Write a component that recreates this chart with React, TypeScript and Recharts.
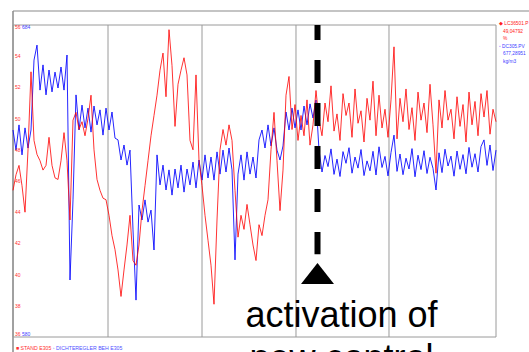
import React from "react";
import {
  LineChart,
  Line,
  XAxis,
  YAxis,
  CartesianGrid,
  ReferenceLine,
  ReferenceDot,
} from "recharts";

// LC36501.PV level (%), left scale 36..56
const levelValues: number[] = [
  45.4, 46.4, 47.0, 45.7, 44.0, 48.0, 53.0, 48.6, 47.7, 47.3,
  46.7, 47.0, 48.8, 47.0, 46.2, 46.1, 47.3, 49.1, 47.3, 43.5,
  49.9, 50.4, 49.3, 49.8, 48.9, 50.0, 51.5, 48.0, 46.1, 45.4,
  44.9, 44.8, 43.8, 42.5, 41.6, 40.3, 38.6, 40.3, 41.9, 43.8,
  40.9, 40.6, 41.9, 44.1, 45.7, 47.3, 48.9, 50.2, 51.5, 53.1,
  54.2, 51.4, 55.7, 53.4, 49.5, 52.2, 53.1, 53.9, 52.8, 48.6,
  48.0, 52.8, 47.3, 45.7, 43.8, 42.2, 40.6, 38.1, 43.5, 48.0,
  49.3, 48.3, 49.6, 48.6, 45.4, 42.4, 43.8, 42.9, 44.5, 43.2,
  41.9, 40.9, 43.2, 42.5, 43.8, 44.8, 48.0, 50.4, 47.3, 44.1,
  46.7, 51.5, 52.7, 49.3, 50.9, 48.6, 50.2, 48.9, 51.2, 48.3,
  49.6, 51.8, 49.9,
  48.9, 51.0, 49.8, 52.1, 49.2, 50.3, 48.6, 51.6, 50.2, 51.0,
  48.8, 51.9, 49.7, 50.5, 48.5, 51.3, 49.9, 52.4, 48.9, 51.5,
  49.4, 50.6, 48.8, 51.2, 54.6, 48.7, 51.3, 49.8, 51.9, 49.3,
  50.7, 48.6, 51.7, 49.9, 51.0, 49.1, 52.2, 49.6, 46.5, 51.2,
  49.4, 51.8, 49.9, 50.6, 48.7, 51.4, 49.5, 50.9, 48.5, 51.7,
  49.6, 51.1, 48.9, 51.6, 50.1, 51.8, 49.0, 50.6, 49.8,
];

// DC305.PV density (kg/m3), right scale 580..684
const densityValues: number[] = [
  649.0, 642.3, 650.7, 640.7, 649.7, 643.0, 649.0, 672.3, 677.3, 662.3,
  670.7, 660.7, 669.0, 661.7, 668.3, 663.0, 670.0, 662.3, 674.0, 599.0,
  625.7, 660.7, 649.0, 657.3, 649.7, 656.3, 648.3, 657.0, 650.7, 655.7,
  647.3, 656.3, 649.0, 655.0, 646.3, 645.7, 639.0, 644.0, 637.3, 642.3,
  615.7, 592.3, 624.0, 619.0, 625.7, 618.3, 622.3, 609.0, 640.7, 630.7,
  637.3, 629.0, 635.7, 627.3, 636.0, 629.7, 637.3, 628.3, 636.0, 630.7,
  638.3, 629.7, 639.0, 632.3, 640.7, 633.0, 640.0, 632.3, 641.7, 634.3,
  642.3, 635.0, 643.0, 635.7, 605.7, 634.3, 640.7, 632.3, 641.7, 634.3,
  640.0, 633.0, 645.7, 649.0, 643.0, 650.7, 643.7, 649.7, 642.3, 639.0,
  643.7, 655.0, 649.0, 656.3, 649.7, 655.7, 649.0, 657.0, 650.7, 657.7,
  653.0, 659.0, 642.3,
  635.0, 640.5, 636.8, 642.7, 634.2, 639.3, 633.5, 641.8, 637.9, 643.1,
  634.6, 640.0, 636.3, 642.5, 633.8, 638.7, 635.4, 641.9, 634.0, 643.4,
  636.5, 640.2, 633.7, 641.5, 647.3, 635.2, 641.0, 634.1, 639.6, 636.0,
  642.8, 633.4, 640.6, 635.8, 642.1, 634.5, 639.9, 636.2, 629.0, 641.4,
  634.8, 642.6, 637.0, 640.3, 633.6, 642.0, 635.9, 640.8, 634.4, 643.2,
  636.6, 641.1, 635.0, 643.5, 645.7, 637.2, 644.0, 635.5, 642.3,
];

const levelTicks: number[] = [36, 38, 40, 42, 44, 46, 48, 50, 52, 54, 56];
const densityTicks: number[] = [580, 684];
const timeGridTicks: number[] = [0, 31.67, 63, 94.33, 125.33, 156.67, 161];
const activationIndex = 101.5;
const activationTop = 56;
const activationBottom = 41.3;
const arrowTip = 40.74;

const rightLegend = [
  { text: "\u25C6 LC36501.P", color: "#ff2020" },
  { text: "49,04792", color: "#ff2020" },
  { text: "%", color: "#ff2020" },
  { text: "\u25E6 DC305.PV", color: "#4040ff" },
  { text: "677,28951", color: "#4040ff" },
  { text: "kg/m3", color: "#4040ff" },
];

const data = levelValues.map((v, i) => ({
  t: i,
  level: v,
  density: densityValues[i],
}));

const FONT = "'Liberation Sans', Arial, sans-serif";

const makeTickLabel = (value: number, color: string, dx: number, dy: number) =>
  (p: any) => (
    <text
      x={p.cx + dx}
      y={p.cy + dy}
      fontSize={5}
      fill={color}
      fontFamily={FONT}
    >
      {value}
    </text>
  );

const Arrow = (props: any) => {
  const { cx, cy } = props;
  return (
    <g>
      <polygon
        points={`${cx},${cy} ${cx - 16.5},${cy + 21} ${cx + 16.5},${cy + 21}`}
        fill="#000"
      />
      <text
        x={cx + 24}
        y={cy + 64}
        textAnchor="middle"
        fontSize={36}
        fontFamily={FONT}
        fill="#000"
      >
        activation of
      </text>
      <text
        x={cx + 24}
        y={cy + 107}
        textAnchor="middle"
        fontSize={36}
        fontFamily={FONT}
        fill="#000"
      >
        new control
      </text>
    </g>
  );
};

export default function App() {
  return (
    <div
      style={{
        position: "absolute",
        left: 0,
        top: 0,
        width: 529,
        height: 352,
        background: "#fff",
        overflow: "hidden",
      }}
    >
      <svg
        width={529}
        height={352}
        style={{ position: "absolute", left: 0, top: 0 }}
      >
        <line x1={13} y1={11} x2={529} y2={11} stroke="#8a8a8a" strokeWidth={1.2} />
        <line x1={13} y1={11} x2={13} y2={352} stroke="#8a8a8a" strokeWidth={1.5} />
        {rightLegend.map((l, i) => (
          <text
            key={i}
            x={i === 0 || i === 3 ? 499 : 503}
            y={25 + i * 7.6}
            fontSize={4.8}
            fill={l.color}
            fontFamily={FONT}
          >
            {l.text}
          </text>
        ))}
        <text x={16} y={350} fontSize={5.2} fontFamily={FONT}>
          <tspan fill="#ff3030">{"\u25A0 STAND E305"}</tspan>
          <tspan fill="#5050ff">{"  \u25E6 DICHTEREGLER BEH E305"}</tspan>
        </text>
      </svg>
      <div style={{ position: "absolute", left: 0, top: 0 }}>
        <LineChart
          width={529}
          height={352}
          data={data}
          margin={{ top: 25, right: 33, bottom: 15, left: 13 }}
        >
          <CartesianGrid stroke="#9a9a9a" strokeWidth={1} />
          <XAxis
            dataKey="t"
            type="number"
            domain={[0, 161]}
            ticks={timeGridTicks}
            hide
          />
          <YAxis
            yAxisId="r"
            domain={[36, 56]}
            ticks={levelTicks}
            hide
          />
          <YAxis
            yAxisId="b"
            domain={[580, 684]}
            ticks={densityTicks}
            hide
          />
          <Line
            yAxisId="b"
            dataKey="density"
            stroke="#0000ff"
            strokeWidth={1}
            strokeOpacity={0.85}
            dot={false}
            isAnimationActive={false}
          />
          <Line
            yAxisId="r"
            dataKey="level"
            stroke="#ff0000"
            strokeWidth={1}
            strokeOpacity={0.8}
            dot={false}
            isAnimationActive={false}
          />
          {levelTicks.map((v) => (
            <ReferenceDot
              key={`lt${v}`}
              yAxisId="r"
              x={0}
              y={v}
              shape={makeTickLabel(v, "#ff3030", 2, v === 56 ? 4 : v === 36 ? -1 : 2)}
            />
          ))}
          {densityTicks.map((v) => (
            <ReferenceDot
              key={`dt${v}`}
              yAxisId="b"
              x={0}
              y={v}
              shape={makeTickLabel(v, "#4040ff", 9, v === 684 ? 4 : -1)}
            />
          ))}
          <ReferenceLine
            yAxisId="r"
            segment={[
              { x: activationIndex, y: activationTop },
              { x: activationIndex, y: activationBottom },
            ]}
            stroke="#000"
            strokeWidth={6}
            strokeDasharray="23 20"
            strokeDashoffset={8}
          />
          <ReferenceDot
            yAxisId="r"
            x={activationIndex}
            y={arrowTip}
            shape={(p: any) => <Arrow {...p} />}
          />
        </LineChart>
      </div>
    </div>
  );
}
